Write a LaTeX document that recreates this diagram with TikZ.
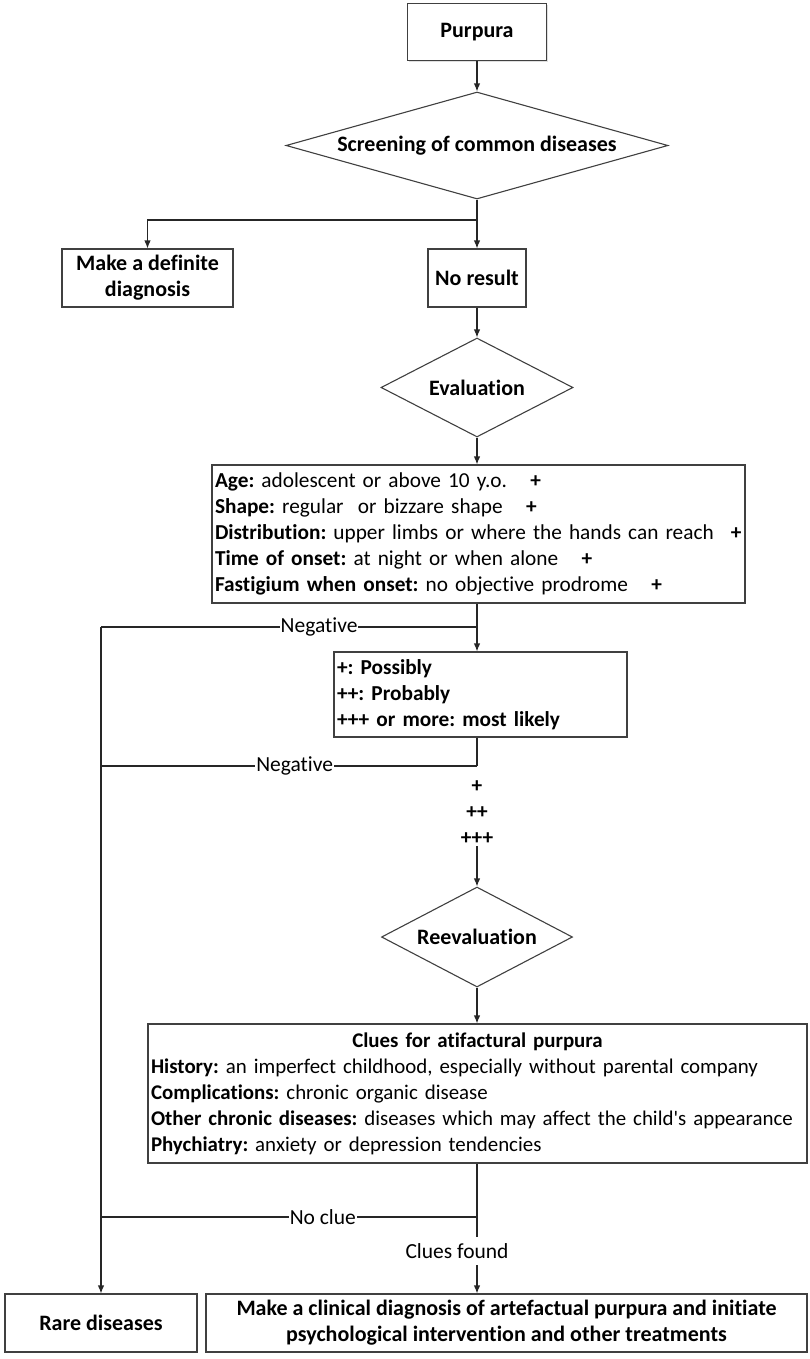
\documentclass[tikz,border=0pt]{standalone}
\usepackage{fontspec}
\setmainfont{Carlito}[Ligatures=NoCommon]
\usetikzlibrary{shapes.geometric,arrows.meta,shadows}
\frenchspacing
\begin{document}
\begin{tikzpicture}[x=1pt,y=-1pt,
  every node/.style={font=\fontsize{21.3}{26}\selectfont},
  sh/.style={drop shadow={opacity=0.25,shadow xshift=1.2pt,shadow yshift=-1.2pt}},
  box/.style={draw=black!75, line width=1.1pt, fill=white, sh, inner sep=3pt, align=center, font=\fontsize{22}{26}\selectfont\bfseries},
  tbox/.style={draw=black!75, line width=1.1pt, fill=white, sh, inner xsep=3pt, inner ysep=2pt, align=left, font=\fontsize{21.3}{26}\selectfont},
  dia/.style={draw=black!75, line width=1.1pt, fill=white, diamond, inner sep=0pt, font=\fontsize{22}{26}\selectfont\bfseries},
  conn/.style={line width=1.2pt, draw=black!85},
  arr/.style={conn, -{Latex[length=8pt,width=6.5pt]}},
  lbl/.style={fill=white, inner sep=1pt, font=\fontsize{21.5}{24}\selectfont},
  plus/.style={inner sep=1pt, font=\fontsize{21.3}{24}\selectfont\bfseries}
]
\useasboundingbox (0,0) rectangle (810,1359);

% nodes
\node[box, minimum width=139, minimum height=57] (purpura) at (477,32) {Purpura};
\node[dia, minimum width=382, minimum height=107, aspect=3.57] (screen) at (477,145.5) {Screening of common diseases};
\node[box, minimum width=171, minimum height=58] (makedef) at (147.5,278) {Make a definite\\diagnosis};
\node[box, minimum width=98, minimum height=58] (noresult) at (477,278) {No result};
\node[dia, minimum width=192, minimum height=99, aspect=1.94] (eval) at (477,387.5) {Evaluation};
\node[tbox, text width=527, minimum height=138] (crit) at (478.5,534) {%
\textbf{Age:} adolescent or above 10 y.o.\hspace{1.1em}\textbf{+}\\
\textbf{Shape:} regular\ \ or bizzare shape\hspace{1.1em}\textbf{+}\\
\textbf{Distribution:} upper limbs or where the hands can reach\hspace{0.8em}\textbf{+}\\
\textbf{Time of onset:} at night or when alone\hspace{1.1em}\textbf{+}\\
\textbf{Fastigium when onset:} no objective prodrome\hspace{1.1em}\textbf{+}};
\node[tbox, text width=287, minimum height=85, font=\fontsize{21.3}{26}\selectfont\bfseries] (poss) at (480.5,694.5) {%
+: Possibly\\
++: Probably\\
+++ or more: most likely};
\node[plus] (p1) at (477,787) {+};
\node[plus] (p2) at (477,813) {++};
\node[plus] (p3) at (477,839) {+++};
\node[dia, minimum width=191, minimum height=100, aspect=1.91] (reeval) at (477,937) {Reevaluation};
\node[tbox, text width=653, minimum height=139, font=\fontsize{20.9}{26}\selectfont] (clues) at (477.5,1093.5) {%
\makebox[653pt][c]{\textbf{Clues for atifactural purpura}}\\
\textbf{History:} an imperfect childhood, especially without parental company\\
\textbf{Complications:} chronic organic disease\\
\mbox{\textbf{Other chronic diseases:} diseases which may affect the child\textquotesingle s appearance}\\
\textbf{Phychiatry:} anxiety or depression tendencies};
\node[box, minimum width=192, minimum height=58] (rare) at (101,1323) {Rare diseases};
\node[box, minimum width=601, minimum height=58] (clin) at (506.5,1323) {Make a clinical diagnosis of artefactual purpura and initiate\\psychological intervention and other treatments};

% coordinates
\coordinate (j1) at (477,220);
\coordinate (j2) at (477,627);
\coordinate (l1) at (101,627);
\coordinate (j3) at (477,766);
\coordinate (l2) at (101,766);
\coordinate (j4) at (477,1217);
\coordinate (l3) at (101,1217);

% connectors
\draw[arr] (purpura) -- (screen);
\draw[conn] (screen.south) -- (j1);
\draw[arr] (j1) -- (noresult.north);
\draw[arr] (j1) -| (makedef.north);
\draw[arr] (noresult) -- (eval);
\draw[arr] (eval) -- (j1 |- crit.north);
\draw[conn] (j2 |- crit.south) -- (j2);
\draw[arr] (j2) -- (j2 |- poss.north);
\draw[conn] (j2) -- node[lbl,pos=0.42]{Negative} (l1);
\draw[conn] (j3 |- poss.south) -- (j3);
\draw[conn] (j3) -- node[lbl,pos=0.485]{Negative} (l2);
\draw[arr] (p3) -- (reeval);
\draw[arr] (reeval) -- (j1 |- clues.north);
\draw[conn] (j4 |- clues.south) -- (j4);
\draw[conn] (j4) -- node[lbl,pos=0.41]{No clue} (l3);
\draw[arr] (j4) -- (j4 |- clin.north);
\node[lbl, inner ysep=6pt] (cf) at (457,1251) {Clues found};
\draw[arr] (l1) -- (rare.north);
\end{tikzpicture}
\end{document}
